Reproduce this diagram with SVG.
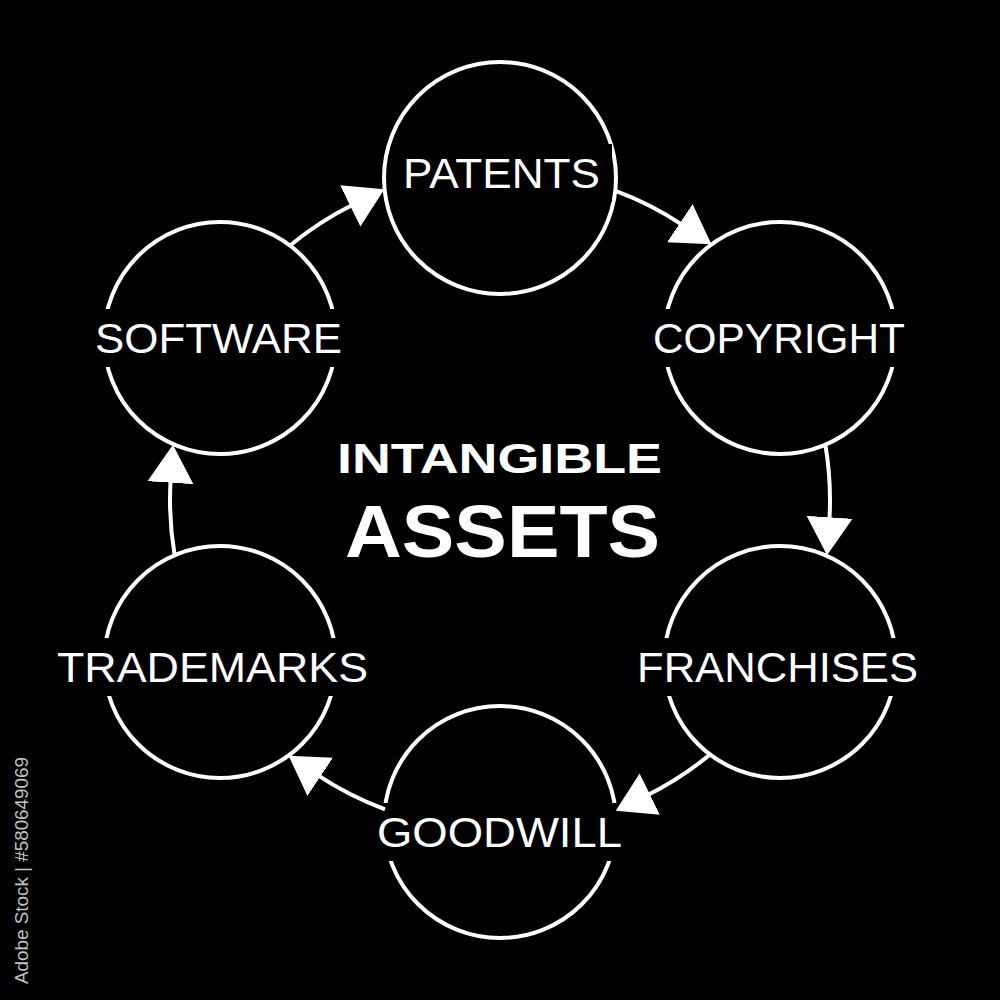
<svg xmlns="http://www.w3.org/2000/svg" width="1000" height="1000" viewBox="0 0 1000 1000">
  <defs>
    <style>
      .node { fill: none; stroke: #fff; stroke-width: 4; }
      .bg { fill: #000; }
      .lbl { fill: #fff; font-family: "Liberation Sans", Arial, sans-serif; font-size: 42px; text-anchor: middle; }
      .title { fill: #fff; font-family: "Liberation Sans", Arial, sans-serif; font-weight: bold; text-anchor: middle; }
      .conn { fill: none; stroke: #fff; stroke-width: 4; }
      .wm { fill: #c4c4c4; font-family: "Liberation Sans", Arial, sans-serif; font-size: 18px; }
    </style>
    <marker id="arrow" markerUnits="userSpaceOnUse" markerWidth="40" markerHeight="48" viewBox="0 -24 40 48" refX="4" refY="0" orient="auto">
      <path d="M0,-23 L38,0 L0,23 z" fill="#fff"/>
    </marker>
  </defs>
  <rect width="1000" height="1000" fill="#000"/>

  <g id="node-patents">
    <circle class="node" cx="500" cy="178" r="116"/>
    <rect class="bg" x="391" y="144" width="221" height="58"/>
    <text class="lbl" x="501.5" y="188" textLength="197" lengthAdjust="spacingAndGlyphs">PATENTS</text>
  </g>
  <g id="node-copyright">
    <circle class="node" cx="780" cy="338" r="116"/>
    <rect class="bg" x="641" y="309" width="276" height="58"/>
    <text class="lbl" x="779" y="353" textLength="252" lengthAdjust="spacingAndGlyphs">COPYRIGHT</text>
  </g>
  <g id="node-franchises">
    <circle class="node" cx="780" cy="662" r="116"/>
    <rect class="bg" x="625" y="638" width="305" height="58"/>
    <text class="lbl" x="777.5" y="682" textLength="281" lengthAdjust="spacingAndGlyphs">FRANCHISES</text>
  </g>
  <g id="node-goodwill">
    <circle class="node" cx="500" cy="822" r="116"/>
    <rect class="bg" x="365" y="803" width="269" height="58"/>
    <text class="lbl" x="499.5" y="847" textLength="245" lengthAdjust="spacingAndGlyphs">GOODWILL</text>
  </g>
  <g id="node-trademarks">
    <circle class="node" cx="220" cy="662" r="116"/>
    <rect class="bg" x="45" y="638" width="335" height="58"/>
    <text class="lbl" x="212.5" y="682" textLength="311" lengthAdjust="spacingAndGlyphs">TRADEMARKS</text>
  </g>
  <g id="node-software">
    <circle class="node" cx="220" cy="338" r="116"/>
    <rect class="bg" x="83" y="309" width="271" height="58"/>
    <text class="lbl" x="218.5" y="353" textLength="247" lengthAdjust="spacingAndGlyphs">SOFTWARE</text>
  </g>

  <g id="title">
    <text class="title" x="499.5" y="473" font-size="42" textLength="325" lengthAdjust="spacingAndGlyphs">INTANGIBLE</text>
    <text class="title" x="502.5" y="557" font-size="75" textLength="315" lengthAdjust="spacingAndGlyphs">ASSETS</text>
  </g>

  <g id="connectors">
    <path class="conn" marker-end="url(#arrow)" d="M289.7,245.7 A330,330 0 0 1 353.8,204.2"/>
    <path class="conn" marker-end="url(#arrow)" d="M615.0,190.7 A330,330 0 0 1 683.1,225.4"/>
    <path class="conn" marker-end="url(#arrow)" d="M825.4,445.0 A330,330 0 0 1 829.3,521.3"/>
    <path class="conn" marker-end="url(#arrow)" d="M710.3,754.3 A330,330 0 0 1 646.2,795.8"/>
    <path class="conn" marker-end="url(#arrow)" d="M385.0,809.3 A330,330 0 0 1 316.9,774.6"/>
    <path class="conn" marker-end="url(#arrow)" d="M174.6,555.0 A330,330 0 0 1 170.7,478.7"/>
  </g>

  <text class="wm" transform="translate(28,984) rotate(-90)" textLength="227" lengthAdjust="spacingAndGlyphs">Adobe Stock | #580649069</text>
</svg>
